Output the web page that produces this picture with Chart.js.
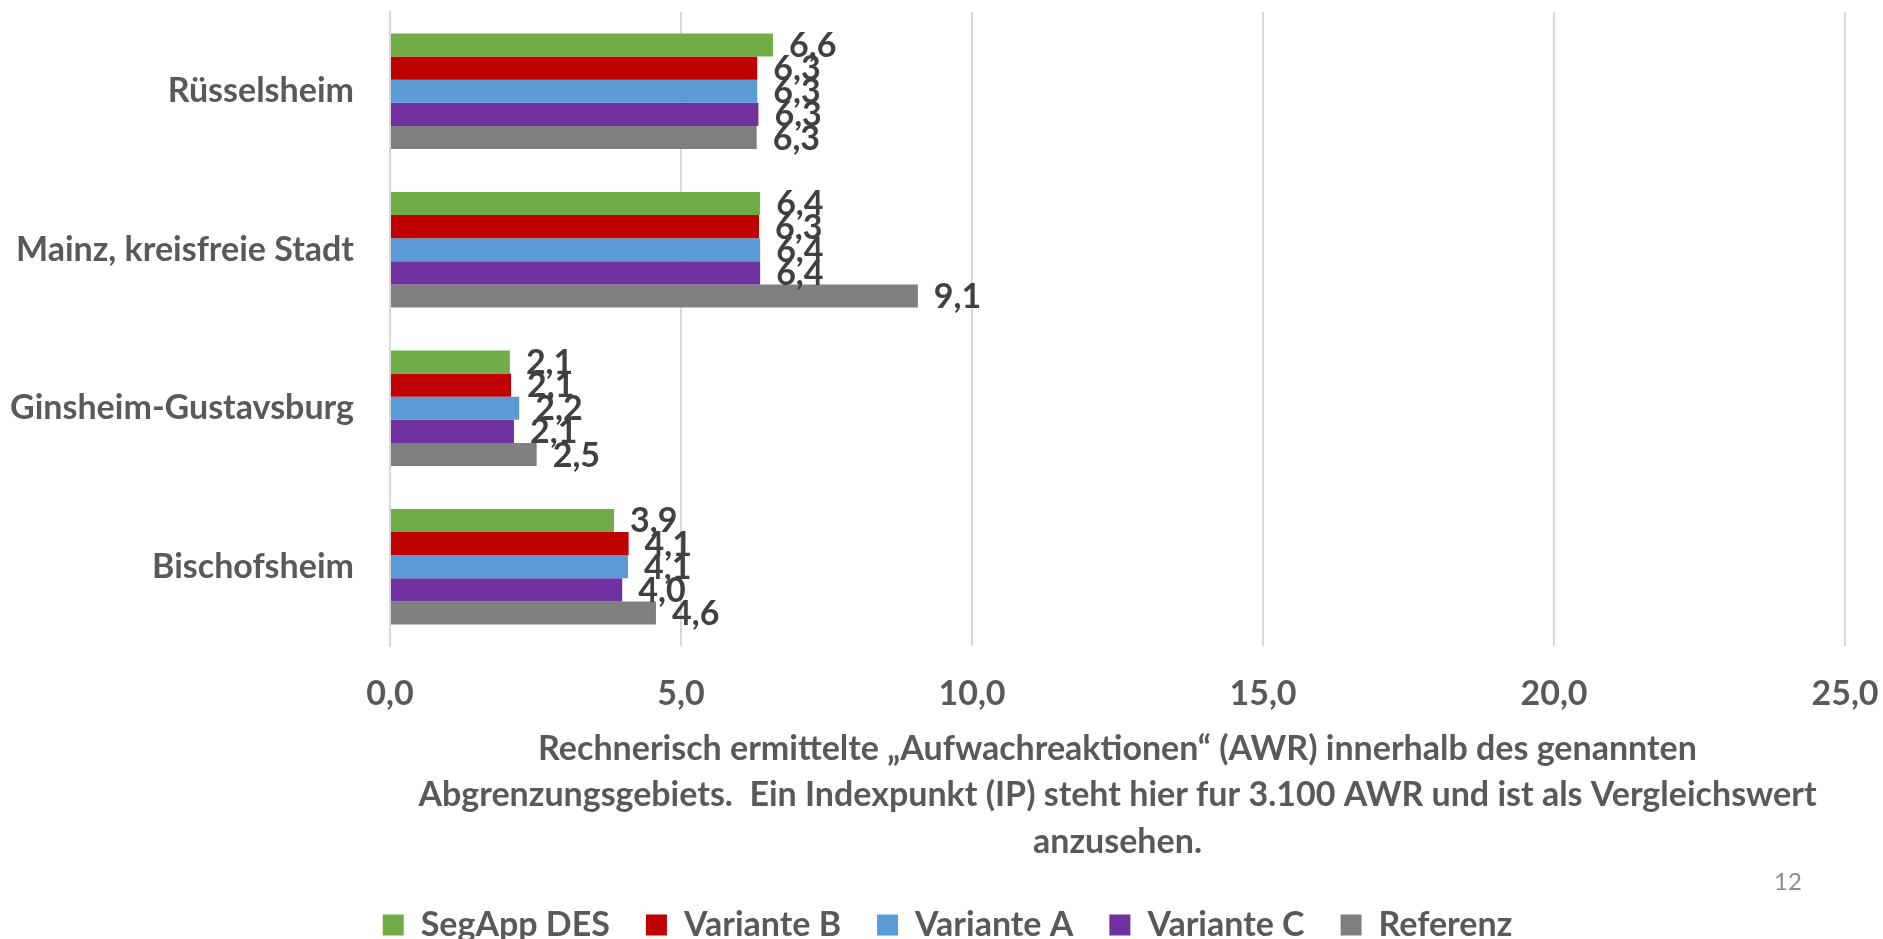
<!DOCTYPE html>
<html lang="de">
<head>
<meta charset="utf-8">
<title>Aufwachreaktionen</title>
<script src="https://cdn.jsdelivr.net/npm/chart.js@4"></script>
<style>
  html, body { margin: 0; padding: 0; background: #fff; overflow: hidden; }
  #wrap { position: relative; width: 1883px; height: 939px; }
  #pageNo { position: absolute; left: 1774px; top: 866px; font: 24px Lato, sans-serif; color: #8c8c8c; }
</style>
</head>
<body>
<div id="wrap">
  <canvas id="awrChart" width="1883" height="939"></canvas>
  <div id="pageNo">12</div>
</div>
<script>
  // Werte
  const categories = ['Rüsselsheim', 'Mainz, kreisfreie Stadt', 'Ginsheim-Gustavsburg', 'Bischofsheim'];
  const segAppDes  = [6.58, 6.36, 2.06, 3.85];
  const varianteB  = [6.31, 6.34, 2.08, 4.10];
  const varianteA  = [6.31, 6.36, 2.22, 4.09];
  const varianteC  = [6.33, 6.36, 2.13, 3.99];
  const referenz   = [6.30, 9.07, 2.52, 4.57];
  const xTicks = [0, 5, 10, 15, 20, 25];
  const axisTitle = [
    'Rechnerisch ermittelte \u201EAufwachreaktionen\u201C (AWR) innerhalb des genannten',
    'Abgrenzungsgebiets.  Ein Indexpunkt (IP) steht hier fur 3.100 AWR und ist als Vergleichswert',
    'anzusehen.'
  ];

  const fontFamily = 'Lato, "Open Sans", sans-serif';
  const fontSize = 34;
  const textGrey = '#595959';

  const fmt = v => v.toFixed(1).replace('.', ',');

  // eigene Datenbeschriftung rechts neben den Balken
  const barLabels = {
    id: 'barLabels',
    afterDatasetsDraw(chart) {
      const ctx = chart.ctx;
      ctx.save();
      ctx.font = 'bold ' + fontSize + 'px ' + fontFamily;
      ctx.fillStyle = '#404040';
      ctx.textAlign = 'left';
      ctx.textBaseline = 'middle';
      chart.data.datasets.forEach((ds, i) => {
        const meta = chart.getDatasetMeta(i);
        meta.data.forEach((bar, j) => {
          ctx.fillText(fmt(ds.data[j]), bar.x + 16, bar.y + 1);
        });
      });
      ctx.restore();
    }
  };

  // Legende etwas nach rechts ruecken wie in der Vorlage
  const shiftLegend = {
    id: 'shiftLegend',
    afterLayout(chart) {
      const lg = chart.legend;
      if (!lg) return;
      lg.left = 50;
      lg.width = lg.right - lg.left;
    }
  };

  new Chart(document.getElementById('awrChart'), {
    type: 'bar',
    data: {
      labels: categories,
      datasets: [
        { label: 'SegApp DES', data: segAppDes, backgroundColor: '#70AD47' },
        { label: 'Variante B', data: varianteB, backgroundColor: '#C00000' },
        { label: 'Variante A', data: varianteA, backgroundColor: '#5B9BD5' },
        { label: 'Variante C', data: varianteC, backgroundColor: '#7030A0' },
        { label: 'Referenz',   data: referenz,  backgroundColor: '#7F7F7F' }
      ]
    },
    options: {
      indexAxis: 'y',
      responsive: false,
      animation: false,
      devicePixelRatio: 1,
      categoryPercentage: 0.73,
      barPercentage: 1.0,
      layout: { padding: { top: 12, right: 38, left: 0, bottom: 0 } },
      plugins: {
        tooltip: { enabled: false },
        legend: {
          position: 'bottom',
          maxHeight: 67,
          labels: {
            color: textGrey,
            font: { family: fontFamily, size: fontSize, weight: 'bold' },
            boxWidth: 21,
            boxHeight: 21,
            padding: 36
          }
        }
      },
      scales: {
        x: {
          min: 0,
          max: 25,
          afterBuildTicks: scale => { scale.ticks = xTicks.map(v => ({ value: v })); },
          afterFit: scale => {
            scale.height = 226;
            scale.paddingLeft = 0;
            scale.paddingRight = 0;
          },
          ticks: {
            color: textGrey,
            padding: 28,
            font: { family: fontFamily, size: fontSize, weight: 'bold' },
            callback: v => fmt(v)
          },
          grid: { color: '#d9d9d9', lineWidth: 2, drawTicks: false },
          border: { display: false },
          title: {
            display: true,
            text: axisTitle,
            color: textGrey,
            font: { family: fontFamily, size: fontSize, weight: 'bold', lineHeight: 1.3676 },
            padding: { top: 10, bottom: 7 }
          }
        },
        y: {
          afterFit: scale => {
            scale.width = 390;
            scale.paddingTop = 0;
            scale.paddingBottom = 0;
          },
          ticks: {
            color: textGrey,
            padding: 28,
            font: { family: fontFamily, size: fontSize, weight: 'bold' }
          },
          grid: { display: false },
          border: { display: true, color: '#d9d9d9', width: 2 }
        }
      }
    },
    plugins: [barLabels, shiftLegend]
  });
</script>
</body>
</html>
